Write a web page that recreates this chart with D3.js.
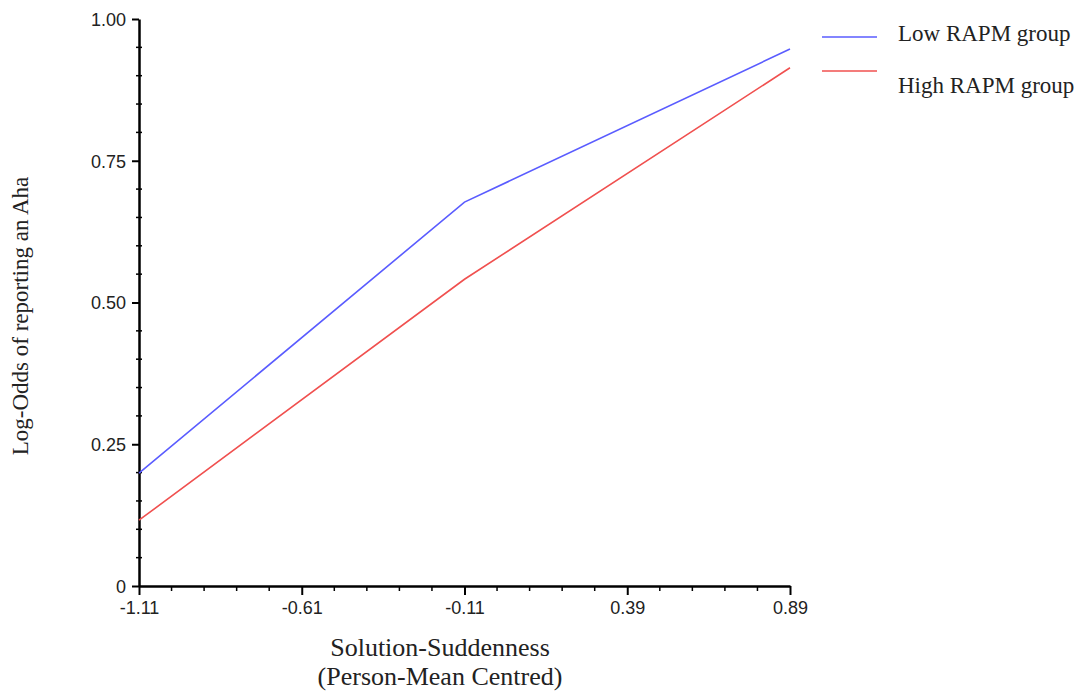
<!DOCTYPE html>
<html><head><meta charset="utf-8">
<script src="https://cdn.jsdelivr.net/npm/d3@7"></script>
<style>body{margin:0;background:#fff}svg{display:block}</style>
</head><body>
<script>
const xValues = [-1.11, -0.11, 0.89];
const lowRAPM = [0.199, 0.677, 0.947];
const highRAPM = [0.116, 0.541, 0.914];
const seriesNames = ["Low RAPM group", "High RAPM group"];
const seriesColors = ["#5a5cff", "#f0504f"];
const xTickLabels = ["-1.11", "-0.61", "-0.11", "0.39", "0.89"];
const yTickLabels = ["0", "0.25", "0.50", "0.75", "1.00"];

const W = 1079, H = 693;
const svg = d3.select("body").append("svg").attr("width", W).attr("height", H);
const x = d3.scaleLinear().domain([-1.11, 0.89]).range([139, 790]);
const y = d3.scaleLinear().domain([0, 1]).range([586, 19]);

const xMinor = d3.range(0, 21).map(i => -1.11 + i * 0.1).filter((v, i) => i % 5 !== 0);
const yMinor = d3.range(0, 21).map(i => i * 0.05).filter((v, i) => i % 5 !== 0);

const g = svg.append("g");
g.selectAll(".xminor").data(xMinor).join("line")
  .attr("x1", d => x(d)).attr("x2", d => x(d)).attr("y1", 586).attr("y2", 591)
  .attr("stroke", "#000").attr("stroke-width", 1.5);
g.selectAll(".yminor").data(yMinor).join("line")
  .attr("x1", 136).attr("x2", 142).attr("y1", d => y(d)).attr("y2", d => y(d))
  .attr("stroke", "#000").attr("stroke-width", 1.5);

const xAxis = d3.axisBottom(x).tickValues(xTickLabels.map(Number))
  .tickFormat((d, i) => xTickLabels[i]).tickSize(9).tickSizeOuter(0);
const yAxis = d3.axisLeft(y).tickValues(yTickLabels.map(Number))
  .tickFormat((d, i) => yTickLabels[i]).tickSize(7).tickSizeOuter(0);

const gx = svg.append("g").attr("transform", "translate(0,586)").call(xAxis);
const gy = svg.append("g").attr("transform", "translate(139,0)").call(yAxis);
[gx, gy].forEach(a => {
  a.select(".domain").attr("stroke", "#000").attr("stroke-width", 2.5);
  a.selectAll(".tick line").attr("stroke", "#000").attr("stroke-width", 2);
  a.selectAll("text").attr("font-family", "'Liberation Sans', Arial, sans-serif")
    .attr("font-size", 18).attr("fill", "#222");
});
gx.selectAll("text").attr("dy", "0").attr("y", 28);
gy.selectAll("text").attr("x", -13).attr("dy", "0.36em");

const line = d3.line().x((d, i) => x(xValues[i])).y(d => y(d));
[lowRAPM, highRAPM].forEach((s, k) => {
  svg.append("path").datum(s).attr("d", line).attr("fill", "none")
    .attr("stroke", seriesColors[k]).attr("stroke-width", 1.6);
});

const serif = "'Liberation Serif', 'Times New Roman', serif";
const legY = [37, 71], legTextY = [41, 93];
seriesNames.forEach((n, k) => {
  svg.append("line").attr("x1", 822).attr("x2", 877).attr("y1", legY[k]).attr("y2", legY[k])
    .attr("stroke", seriesColors[k]).attr("stroke-width", 1.6);
  svg.append("text").attr("x", 898).attr("y", legTextY[k]).text(n)
    .attr("font-family", serif).attr("font-size", 23).attr("fill", "#222");
});

svg.append("text").attr("x", 440).attr("y", 656).attr("text-anchor", "middle")
  .attr("font-family", serif).attr("font-size", 26).attr("fill", "#222").text("Solution-Suddenness");
svg.append("text").attr("x", 440).attr("y", 685).attr("text-anchor", "middle")
  .attr("font-family", serif).attr("font-size", 26).attr("fill", "#222").text("(Person-Mean Centred)");
svg.append("text").attr("transform", "translate(28,316) rotate(-90)").attr("text-anchor", "middle")
  .attr("font-family", serif).attr("font-size", 23).attr("fill", "#222").text("Log-Odds of reporting an Aha");
</script>
</body></html>
